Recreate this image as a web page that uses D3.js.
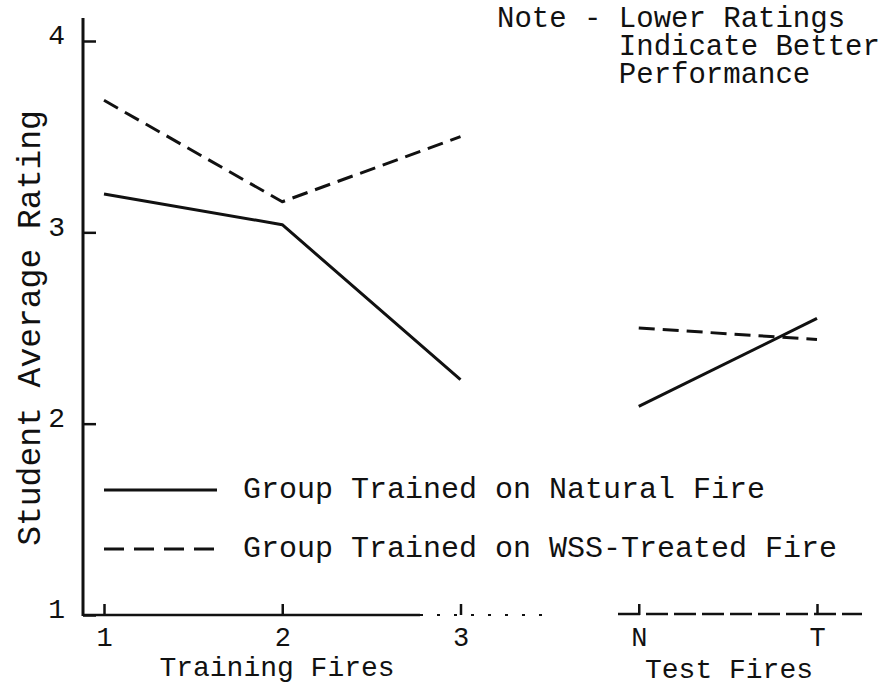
<!DOCTYPE html>
<html>
<head>
<meta charset="utf-8">
<script src="https://cdn.jsdelivr.net/npm/d3@7"></script>
<style>
  body { margin: 0; background: #fff; }
  text { font-family: "Liberation Mono", "DejaVu Sans Mono", monospace; fill: #111; }
</style>
</head>
<body>
<div id="chart"></div>
<script>
var width = 893
var height = 687

// data
var categories = ['1', '2', '3', 'N', 'T']
var natural = [3.20, 3.04, 2.23, 2.09, 2.55]
var wssTreated = [3.69, 3.16, 3.50, 2.50, 2.44]
var yTicks = [1, 2, 3, 4]
var noteLines = ['Note - Lower Ratings', '       Indicate Better', '       Performance']

var svg = d3.select('#chart').append('svg')
            .attr('width', width)
            .attr('height', height)

var x = d3.scalePoint().domain(categories).range([104, 817])
var y = d3.scaleLinear().domain([1, 4]).range([615, 41])
var x0 = 83

// y axis
var yAxis = d3.axisLeft(y)
              .tickValues(yTicks)
              .tickFormat(d3.format('d'))
              .tickSizeInner(-13)
              .tickSizeOuter(0)
              .tickPadding(18)

var gy = svg.append('g')
            .attr('transform', 'translate(' + x0 + ',0)')
            .call(yAxis)
gy.select('.domain').remove()
gy.selectAll('.tick line').attr('stroke', '#111').attr('stroke-width', 2.5)
gy.selectAll('.tick text')
  .attr('dy', '0.1em')
  .style('font-size', '28px')

svg.append('line')
   .attr('x1', x0).attr('x2', x0)
   .attr('y1', 18).attr('y2', y(1) + 1)
   .attr('stroke', '#111').attr('stroke-width', 3)

// x axis
var xAxis = d3.axisBottom(x)
              .tickSizeInner(-11)
              .tickSizeOuter(0)
              .tickPadding(12)

var gx = svg.append('g')
            .attr('transform', 'translate(0,' + y(1) + ')')
            .call(xAxis)
gx.select('.domain').remove()
gx.selectAll('.tick line').attr('stroke', '#111').attr('stroke-width', 2.5)
gx.selectAll('.tick text').style('font-size', '27px')

// baseline: solid under training fires, broken further right (as in the scan)
svg.append('line')
   .attr('x1', x0).attr('x2', 420)
   .attr('y1', y(1)).attr('y2', y(1))
   .attr('stroke', '#111').attr('stroke-width', 2.5)
svg.append('line')
   .attr('x1', 420).attr('x2', 545)
   .attr('y1', y(1)).attr('y2', y(1))
   .attr('stroke', '#111').attr('stroke-width', 2)
   .attr('stroke-dasharray', '3,14')
svg.append('line')
   .attr('x1', 618).attr('x2', 862)
   .attr('y1', y(1) - 1).attr('y2', y(1) - 1)
   .attr('stroke', '#111').attr('stroke-width', 2.5)
   .attr('stroke-dasharray', '22,6')

// group labels
svg.append('text')
   .attr('x', 277).attr('y', 676)
   .attr('text-anchor', 'middle')
   .style('font-size', '28px')
   .text('Training Fires')
svg.append('text')
   .attr('x', 729).attr('y', 678)
   .attr('text-anchor', 'middle')
   .style('font-size', '28px')
   .text('Test Fires')

// y label
svg.append('text')
   .attr('transform', 'translate(40,' + 328 + ') rotate(-90)')
   .attr('text-anchor', 'middle')
   .style('font-size', '33px')
   .text('Student Average Rating')

// series lines (training and test segments drawn separately)
var line = d3.line()
             .x((d) => x(d.cat))
             .y((d) => y(d.val))

var series = [
  {name: 'natural', values: natural, dash: null},
  {name: 'wss', values: wssTreated, dash: '16,8'}
]

series.forEach((s) => {
  var pts = categories.map((c, i) => ({cat: c, val: s.values[i]}))
  var segs = [pts.slice(0, 3), pts.slice(3)]
  segs.forEach((seg) => {
    svg.append('path')
       .datum(seg)
       .attr('d', line)
       .attr('fill', 'none')
       .attr('stroke', '#111')
       .attr('stroke-width', 3)
       .attr('stroke-linejoin', 'round')
       .attr('stroke-dasharray', s.dash)
  })
})

// legend
var legend = [
  {label: 'Group Trained on Natural Fire', dash: null, y: 490},
  {label: 'Group Trained on WSS-Treated Fire', dash: '20,10', y: 549}
]
legend.forEach((d) => {
  svg.append('line')
     .attr('x1', 104).attr('x2', 217)
     .attr('y1', d.y).attr('y2', d.y)
     .attr('stroke', '#111').attr('stroke-width', 3)
     .attr('stroke-dasharray', d.dash)
  svg.append('text')
     .attr('x', 243).attr('y', d.y + 8)
     .style('font-size', '30px')
     .text(d.label)
})

// note
svg.append('text')
   .attr('xml:space', 'preserve')
   .style('white-space', 'pre')
   .style('font-size', '29px')
   .selectAll('tspan')
   .data(noteLines)
   .enter()
     .append('tspan')
     .attr('x', 497)
     .attr('y', (d, i) => 27 + i * 28)
     .text((d) => d)
</script>
</body>
</html>
